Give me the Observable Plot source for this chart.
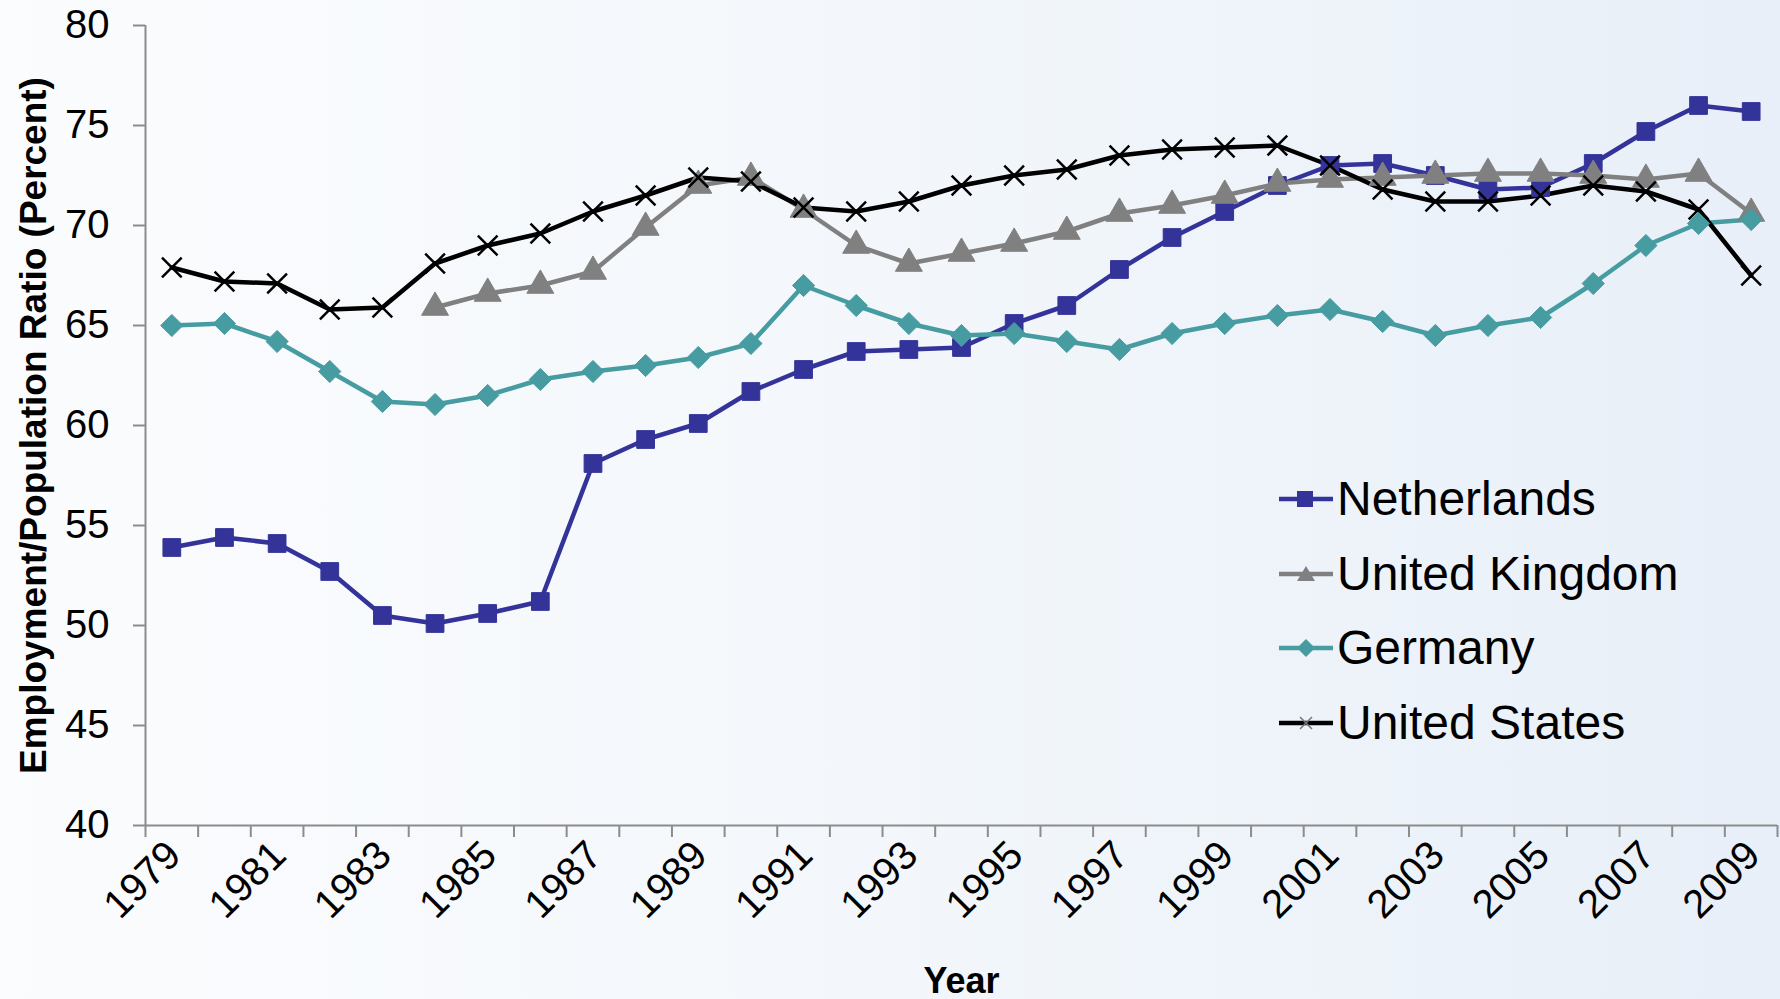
<!DOCTYPE html>
<html>
<head>
<meta charset="utf-8">
<script src="https://cdn.jsdelivr.net/npm/d3@7"></script>
<script src="https://cdn.jsdelivr.net/npm/@observablehq/plot@0.6"></script>
<style>
  html, body { margin: 0; padding: 0; }
  #wrap {
    position: relative; width: 1780px; height: 999px; overflow: hidden;
    background: linear-gradient(to right, #fbfcfe 0%, #f3f7fb 50%, #e8eff8 100%);
    font-family: "Liberation Sans", Arial, sans-serif;
  }
  #legend { position: absolute; left: 1279px; top: 462px; }
  .item { display: flex; align-items: center; height: 74.5px; }
  .item svg { width: 54px; height: 40px; display: block; }
  .item span { font-size: 48px; color: #000; margin-left: 4px; line-height: 1; }
</style>
</head>
<body>
<div id="wrap"><div id="chart"></div><div id="legend"></div></div>
<script>
const years = [1979,1980,1981,1982,1983,1984,1985,1986,1987,1988,1989,1990,1991,1992,1993,1994,1995,1996,1997,1998,1999,2000,2001,2002,2003,2004,2005,2006,2007,2008,2009];
const labelYears = [1979,1981,1983,1985,1987,1989,1991,1993,1995,1997,1999,2001,2003,2005,2007,2009];
const yTicks = [40,45,50,55,60,65,70,75,80];
const countries = ["Netherlands","United Kingdom","Germany","United States"];
const colors = ["#333399","#808080","#469ca1","#000000"];

const netherlands = [53.9,54.4,54.1,52.7,50.5,50.1,50.6,51.2,58.1,59.3,60.1,61.7,62.8,63.7,63.8,63.9,65.1,66.0,67.8,69.4,70.7,72.0,73.0,73.1,72.5,71.8,71.9,73.1,74.7,76.0,75.7];
const unitedKingdom = [null,null,null,null,null,65.9,66.6,67.0,67.7,69.9,72.0,72.4,70.8,69.0,68.1,68.6,69.1,69.7,70.6,71.0,71.5,72.1,72.3,72.4,72.5,72.6,72.6,72.5,72.3,72.6,70.6];
const germany = [65.0,65.1,64.2,62.7,61.2,61.05,61.5,62.3,62.7,63.0,63.4,64.1,67.0,66.0,65.1,64.5,64.6,64.2,63.8,64.6,65.1,65.5,65.8,65.2,64.5,65.0,65.4,67.1,69.0,70.1,70.3];
const unitedStates = [67.9,67.2,67.1,65.8,65.9,68.1,69.0,69.6,70.7,71.5,72.4,72.2,70.9,70.7,71.2,72.0,72.5,72.8,73.5,73.8,73.9,74.0,73.0,71.8,71.2,71.2,71.5,72.0,71.7,70.8,67.5];

const seriesValues = [netherlands, unitedKingdom, germany, unitedStates];
const rows = [];
countries.forEach((c, k) => years.forEach((yr, i) => {
  const v = seriesValues[k][i];
  if (v != null) rows.push({year: yr, value: v, country: c});
}));
const boundaries = years.map(y => y - 0.5).concat([years[years.length - 1] + 0.5]);
const axisGray = "#8c8c8c";
const font = "'Liberation Sans', Arial, sans-serif";

const chart = Plot.plot({
  width: 1780, height: 999,
  marginLeft: 145, marginRight: 3, marginTop: 25, marginBottom: 174,
  style: {background: "transparent", fontFamily: font, color: "#000", overflow: "visible"},
  x: {domain: [boundaries[0], boundaries[boundaries.length - 1]]},
  y: {domain: [40, 80]},
  color: {domain: countries, range: colors},
  symbol: {domain: countries, range: ["square", "triangle", "diamond2", "times"]},
  marks: [
    Plot.axisY({ticks: yTicks, tickSize: 12, tickPadding: 24, fontSize: 40, stroke: axisGray, strokeWidth: 2, fill: "#000", label: null}),
    Plot.axisX({ticks: boundaries, tickSize: 12, tickFormat: () => "", stroke: axisGray, strokeWidth: 2, label: null}),
    Plot.ruleY([40], {stroke: axisGray, strokeWidth: 2}),
    Plot.ruleX([boundaries[0]], {stroke: axisGray, strokeWidth: 2}),
    Plot.text(labelYears, {x: d => d, frameAnchor: "bottom", rotate: -45, textAnchor: "end", lineAnchor: "middle", dx: 2, dy: 23, fontSize: 40, text: d => String(d), fill: "#000"}),
    Plot.text(["Employment/Population Ratio (Percent)"], {frameAnchor: "left", textAnchor: "middle", dx: -111, rotate: -90, fontSize: 37, fontWeight: "bold", fill: "#000"}),
    Plot.text(["Year"], {frameAnchor: "bottom", dy: 167, fontSize: 36, fontWeight: "bold", fill: "#000"}),
    Plot.line(rows, {x: "year", y: "value", z: "country", stroke: "country", strokeWidth: 4.5}),
    Plot.dot(rows.filter(d => d.country !== "United States"), {x: "year", y: "value", symbol: "country", fill: "country", stroke: "country", strokeWidth: 1, r: 10}),
    Plot.dot(rows.filter(d => d.country === "United States"), {x: "year", y: "value", symbol: "country", stroke: "country", strokeWidth: 2.5, r: 9})
  ]
});
document.getElementById("chart").appendChild(chart);

// Legend
const legend = document.getElementById("legend");
const symbolsSvg = [
  '<rect x="18" y="12" width="16" height="16" fill="#333399"/>',
  '<path d="M27,12 L36,27 L18,27 Z" fill="#808080"/>',
  '<path d="M27,11 L36,20 L27,29 L18,20 Z" fill="#469ca1"/>',
  '<path d="M21,14 L33,26 M33,14 L21,26" stroke="#777" stroke-width="1.5"/>'
];
countries.forEach((c, k) => {
  const div = document.createElement("div");
  div.className = "item";
  div.innerHTML = `<svg viewBox="0 0 54 40"><line x1="0" x2="54" y1="20" y2="20" stroke="${colors[k]}" stroke-width="4.5"/>${symbolsSvg[k]}</svg><span>${c}</span>`;
  legend.appendChild(div);
});
</script>
</body>
</html>
